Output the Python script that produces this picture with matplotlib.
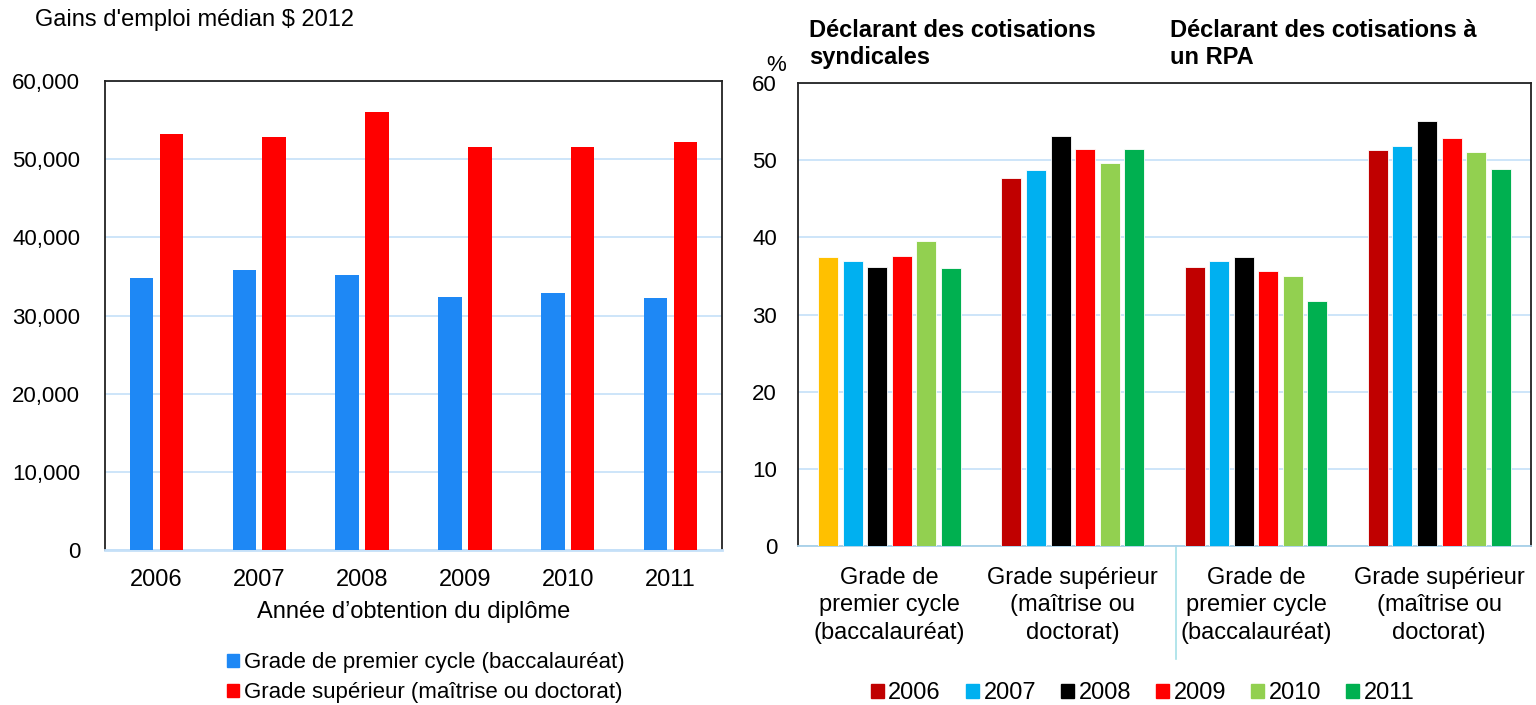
import matplotlib.pyplot as plt
import numpy as np
from matplotlib.patches import Patch
from matplotlib.transforms import blended_transform_factory

plt.rcParams['font.family'] = ['Liberation Sans', 'DejaVu Sans']

# left panel: median earnings
years = ['2006', '2007', '2008', '2009', '2010', '2011']
earn_bac = [34800, 35800, 35200, 32400, 32900, 32300]
earn_sup = [53200, 52900, 56100, 51600, 51600, 52200]

# right panel: % declaring union dues / RPP contributions
groups = ['Grade de\npremier cycle\n(baccalauréat)', 'Grade supérieur\n(maîtrise ou\ndoctorat)',
          'Grade de\npremier cycle\n(baccalauréat)', 'Grade supérieur\n(maîtrise ou\ndoctorat)']
pct_2006 = [37.4, 47.7, 36.2, 51.3]
pct_2007 = [37.0, 48.7, 36.9, 51.8]
pct_2008 = [36.1, 53.2, 37.4, 55.1]
pct_2009 = [37.6, 51.4, 35.7, 52.9]
pct_2010 = [39.5, 49.7, 35.0, 51.1]
pct_2011 = [36.0, 51.4, 31.8, 48.9]
pct_series = [pct_2006, pct_2007, pct_2008, pct_2009, pct_2010, pct_2011]

year_colors = ['#c00000', '#00b0f0', '#000000', '#ff0000', '#92d050', '#00b050']
first_bar_color = '#ffc000'  # first bar of first group drawn in yellow
blue = '#1e88f5'
red = '#ff0000'
grid_col = '#c5e0f8'
fs_x = 17
fs_y = 16
fs_leg = 16

fig = plt.figure(figsize=(15.36, 7.05), dpi=100)

# ---- left chart ----
ax1 = fig.add_axes([0.0684, 0.2199, 0.4016, 0.6651])
x = np.arange(len(years))
w = 0.23
ax1.bar(x - 0.145, earn_bac, w, color=blue, zorder=3)
ax1.bar(x + 0.145, earn_sup, w, color=red, zorder=3)
ax1.set_xlim(-0.5, len(years) - 0.5)
ax1.set_ylim(0, 60000)
ax1.set_yticks(np.arange(0, 60001, 10000))
ax1.set_yticklabels([f'{v:,}' for v in range(0, 60001, 10000)])
ax1.set_xticks(x)
ax1.set_xticklabels(years)
ax1.tick_params(length=0)
ax1.tick_params(axis='x', labelsize=fs_x, pad=14)
ax1.tick_params(axis='y', labelsize=fs_y, pad=18)
ax1.grid(axis='y', color=grid_col, lw=1.2, zorder=0)
for s in ax1.spines.values():
    s.set_color('#222222')
    s.set_linewidth(1.3)
ax1.spines['bottom'].set_color('#c5e0f8')
ax1.spines['bottom'].set_linewidth(2)
ax1.set_xlabel('Année d’obtention du diplôme', fontsize=fs_x, labelpad=7)
fig.text(0.023, 0.972, "Gains d'emploi médian $ 2012", fontsize=fs_x, va='center')
ax1.legend(handles=[Patch(color=blue, label='Grade de premier cycle (baccalauréat)'),
                    Patch(color=red, label='Grade supérieur (maîtrise ou doctorat)')],
           loc='upper center', bbox_to_anchor=(0.52, -0.185), frameon=False, fontsize=fs_leg,
           handlelength=0.55, handleheight=0.55, handletextpad=0.25, labelspacing=0.4,
           borderpad=0.2)

# ---- right chart ----
ax2 = fig.add_axes([0.5195, 0.2255, 0.4772, 0.6567])
g = np.arange(len(groups))
bw = 0.109
step = 0.134
for i, vals in enumerate(pct_series):
    cols = [year_colors[i]] * len(groups)
    if i == 0:
        cols[0] = first_bar_color
    ax2.bar(g + (i - 2.5) * step, vals, bw, color=cols, edgecolor='white', linewidth=0.6, zorder=3)
ax2.set_xlim(-0.5, len(groups) - 0.5)
ax2.set_ylim(0, 60)
ax2.set_yticks(np.arange(0, 61, 10))
ax2.set_xticks(g)
ax2.set_xticklabels(groups, linespacing=1.32)
ax2.tick_params(length=0)
ax2.tick_params(axis='x', labelsize=fs_x, pad=15)
ax2.tick_params(axis='y', labelsize=fs_y, pad=15)
ax2.grid(axis='y', color=grid_col, lw=1.2, zorder=0)
for s in ax2.spines.values():
    s.set_color('#222222')
    s.set_linewidth(1.3)
ax2.spines['bottom'].set_color('#a8d0e8')
trans = blended_transform_factory(ax2.transData, ax2.transAxes)
ax2.plot([1.565, 1.565], [0, -0.245], color='#a6e0e8', lw=1.2, transform=trans, clip_on=False)
fig.text(0.499, 0.899, '%', fontsize=fs_y)
fig.text(0.527, 0.938, 'Déclarant des cotisations\nsyndicales', fontsize=fs_x, fontweight='bold',
         va='center', linespacing=1.2)
fig.text(0.762, 0.938, 'Déclarant des cotisations à\nun RPA', fontsize=fs_x, fontweight='bold',
         va='center', linespacing=1.2)
ax2.legend(handles=[Patch(color=c, label=y) for c, y in zip(year_colors, years)],
           loc='upper center', bbox_to_anchor=(0.47, -0.258), frameon=False, fontsize=17,
           ncol=6, handlelength=0.55, handleheight=0.55, handletextpad=0.2, columnspacing=1.05,
           borderpad=0.2)

fig.savefig('out.png', dpi=100)
